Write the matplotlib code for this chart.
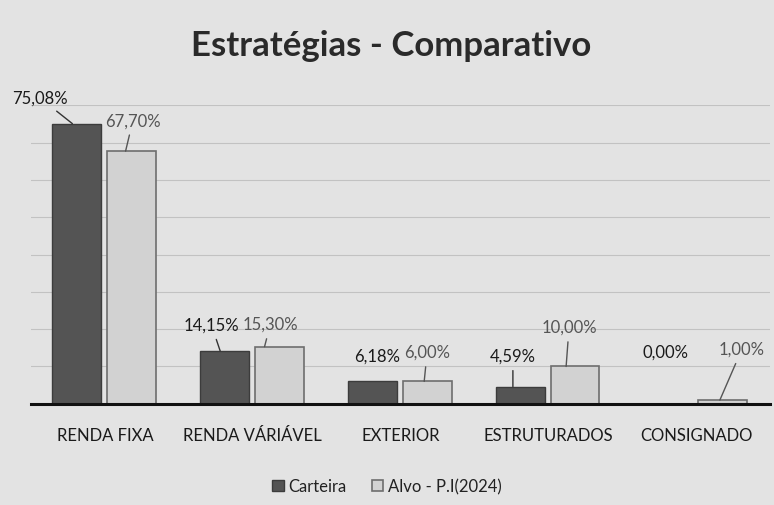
import matplotlib
matplotlib.use("Agg")
import matplotlib.pyplot as plt
import numpy as np

categorias = ["RENDA FIXA", "RENDA VÁRIÁVEL", "EXTERIOR", "ESTRUTURADOS", "CONSIGNADO"]
carteira = [75.08, 14.15, 6.18, 4.59, 0.00]
alvo = [67.70, 15.30, 6.00, 10.00, 1.00]
rotulos_carteira = ["75,08%", "14,15%", "6,18%", "4,59%", "0,00%"]
rotulos_alvo = ["67,70%", "15,30%", "6,00%", "10,00%", "1,00%"]

plt.rcParams["font.family"] = ["Lato", "DejaVu Sans"]

fig = plt.figure(figsize=(7.74, 5.06), dpi=100, facecolor="#e3e3e3")
ax = fig.add_axes([0.04, 0.2, 0.955, 0.59])
ax.set_facecolor("#e3e3e3")

x = np.arange(len(categorias))
w = 0.33
ax.bar(x - 0.19, carteira, w, color="#545454", edgecolor="#3c3c3c",
       linewidth=1, label="Carteira", zorder=3)
ax.bar(x + 0.18, alvo, w, color="#d2d2d2", edgecolor="#6e6e6e",
       linewidth=1.2, label="Alvo - P.I(2024)", zorder=3)

ax.set_xlim(-0.5, 4.5)
ax.set_ylim(0, 80)
ax.set_yticks(np.arange(10, 81, 10))
ax.yaxis.grid(True, color="#c2c2c2", linewidth=0.8)
ax.tick_params(axis="y", left=False, labelleft=False)
ax.tick_params(axis="x", bottom=False, pad=13)
ax.set_xticks(x)
ax.set_xticklabels(categorias, fontsize=12, color="#1a1a1a")
for s in ["top", "right", "left"]:
    ax.spines[s].set_visible(False)
ax.spines["bottom"].set_linewidth(2.2)
ax.spines["bottom"].set_color("#111111")
ax.spines["bottom"].set_zorder(4)

# posicoes dos rotulos (texto) e pontas das linhas de chamada
txt_carteira = [(-0.44, 82.0), (0.72, 21.2), (1.84, 12.9), (2.76, 12.9), (3.79, 13.9)]
ponta_carteira = [(-0.22, 75.08), (0.78, 14.15), None, (2.76, 4.59), None]
txt_alvo = [(0.19, 76.0), (1.12, 21.4), (2.18, 13.9), (3.14, 20.6), (4.31, 14.7)]
ponta_alvo = [(0.14, 67.70), (1.08, 15.30), (2.16, 6.00), (3.12, 10.00), (4.16, 1.00)]

for i in range(len(categorias)):
    if ponta_carteira[i] is None:
        ax.text(*txt_carteira[i], rotulos_carteira[i], ha="center", va="center",
                fontsize=12, color="#1a1a1a")
    else:
        ax.annotate(rotulos_carteira[i], xy=ponta_carteira[i], xytext=txt_carteira[i],
                    ha="center", va="center", fontsize=12, color="#1a1a1a",
                    annotation_clip=False,
                    arrowprops=dict(arrowstyle="-", color="#333333", lw=1,
                                    shrinkA=3, shrinkB=0))
    ax.annotate(rotulos_alvo[i], xy=ponta_alvo[i], xytext=txt_alvo[i],
                ha="center", va="center", fontsize=12, color="#555555",
                annotation_clip=False,
                arrowprops=dict(arrowstyle="-", color="#555555", lw=1,
                                shrinkA=3, shrinkB=0))

fig.text(0.505, 0.91, "Estratégias - Comparativo", ha="center", va="center",
         fontsize=25, fontweight="bold", color="#2a2a2a")

fig.legend(loc="center", bbox_to_anchor=(0.5, 0.037), ncol=2, frameon=False,
           fontsize=12, handlelength=0.7, handleheight=0.7, columnspacing=1.5,
           handletextpad=0.3, labelcolor="#222222")

fig.savefig("out.png", dpi=100, facecolor=fig.get_facecolor())
